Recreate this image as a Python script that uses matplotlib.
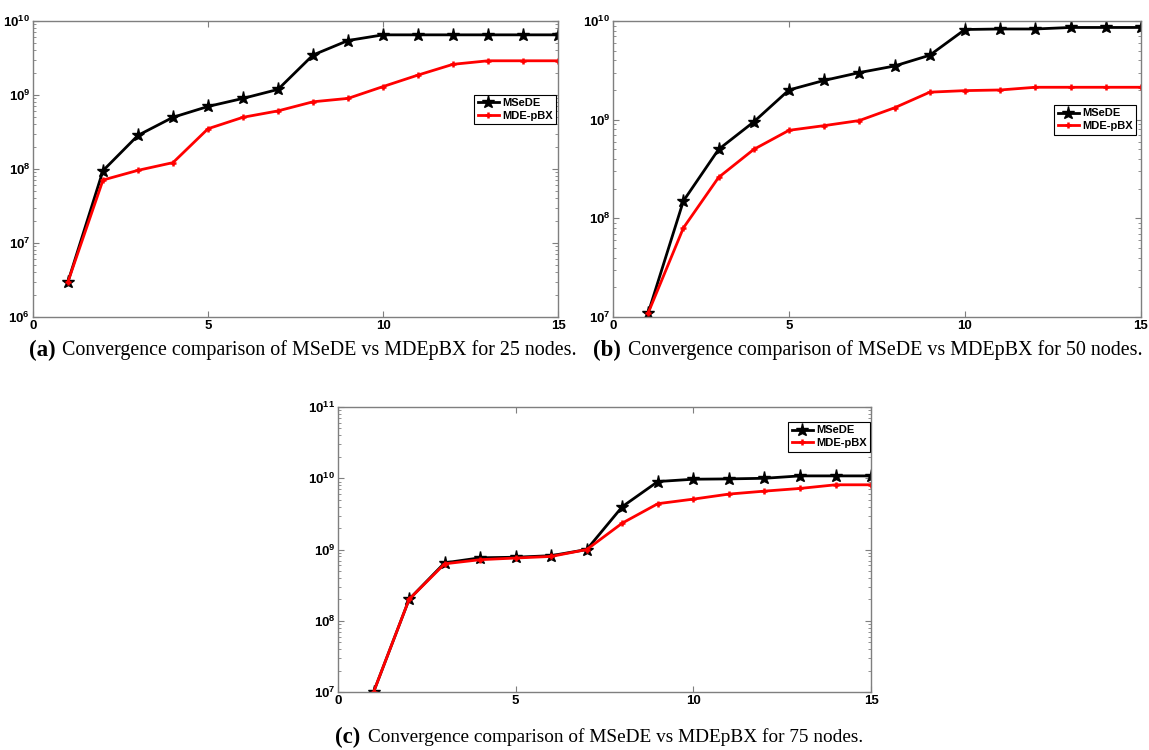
"""Convergence comparison of MSeDE vs MDE-pBX for 25, 50 and 75 nodes (log scale)."""
import numpy as np
import matplotlib
matplotlib.use("Agg")
import matplotlib.pyplot as plt
from matplotlib.ticker import FuncFormatter, LogLocator

# ---------------- DATA ----------------
iterations = [1, 2, 3, 4, 5, 6, 7, 8, 9, 10, 11, 12, 13, 14, 15]

msede_25 = [3e6, 9.5e7, 2.85e8, 5e8, 7e8, 9e8, 1.19e9, 3.47e9, 5.45e9,
            6.5e9, 6.5e9, 6.5e9, 6.5e9, 6.5e9, 6.5e9]
mdepbx_25 = [3e6, 7.1e7, 9.6e7, 1.22e8, 3.5e8, 5e8, 6.1e8, 8.1e8, 9e8,
             1.3e9, 1.86e9, 2.6e9, 2.9e9, 2.9e9, 2.9e9]

msede_50 = [1.1e7, 1.5e8, 5e8, 9.5e8, 2e9, 2.5e9, 3e9, 3.5e9, 4.5e9,
            8.2e9, 8.3e9, 8.3e9, 8.6e9, 8.6e9, 8.6e9]
mdepbx_50 = [1.1e7, 8e7, 2.6e8, 5e8, 7.8e8, 8.7e8, 9.8e8, 1.32e9, 1.9e9,
             1.97e9, 2e9, 2.13e9, 2.13e9, 2.13e9, 2.13e9]

msede_75 = [1e7, 2e8, 6.5e8, 7.65e8, 7.8e8, 8.2e8, 1e9, 4e9, 9e9,
            9.7e9, 9.8e9, 1e10, 1.08e10, 1.08e10, 1.08e10]
mdepbx_75 = [1e7, 2e8, 6.3e8, 7.2e8, 7.6e8, 8e8, 1e9, 2.35e9, 4.4e9,
             5.1e9, 6e9, 6.6e9, 7.2e9, 8.1e9, 8.1e9]

series_labels = ["MSeDE", "MDE-pBX"]
x_ticks = [0, 5, 10, 15]

# ---------------- FONTS ----------------
plt.rcParams["font.family"] = ["Liberation Sans", "DejaVu Sans"]
plt.rcParams["mathtext.fontset"] = "custom"
plt.rcParams["mathtext.bf"] = "Liberation Sans:bold"
plt.rcParams["mathtext.rm"] = "Liberation Sans:bold"

spine_grey = "#7f7f7f"

fig = plt.figure(figsize=(11.49, 7.5), dpi=100)


def decade_label(v, pos):
    # log tick labels like 10^9 in bold
    e = int(round(np.log10(v)))
    return r"$\mathbf{10^{%d}}$" % e


def draw_panel(rect, y_black, y_red, ylim, legend_anchor):
    ax = fig.add_axes(rect)
    ax.plot(iterations, y_black, color="black", lw=2, marker="*",
            ms=9.5, label=series_labels[0])
    ax.plot(iterations, y_red, color="red", lw=2, marker="+",
            ms=5, mew=1.8, label=series_labels[1])
    ax.set_yscale("log")
    ax.set_xlim(0, 15)
    ax.set_ylim(*ylim)
    ax.set_xticks(x_ticks)
    ax.set_xticklabels([str(t) for t in x_ticks], fontweight="bold")
    ax.yaxis.set_major_locator(LogLocator(base=10, numticks=20))
    ax.yaxis.set_minor_locator(LogLocator(base=10, subs=np.arange(2, 10), numticks=20))
    ax.yaxis.set_major_formatter(FuncFormatter(decade_label))
    ax.tick_params(which="both", direction="in", top=True, right=True,
                   color=spine_grey, labelsize=9.5, pad=2)
    ax.tick_params(which="major", length=4)
    ax.tick_params(which="minor", length=2.5)
    for s in ax.spines.values():
        s.set_color(spine_grey)
        s.set_linewidth(1)
    leg = ax.legend(loc="upper right", bbox_to_anchor=legend_anchor,
                    borderaxespad=0, fancybox=False, framealpha=1,
                    prop={"weight": "bold", "size": 8},
                    handlelength=1.9, handletextpad=0.3, borderpad=0.3,
                    labelspacing=0.25)
    leg.get_frame().set_edgecolor("black")
    leg.get_frame().set_linewidth(0.8)
    return ax


# ---------------- THREE PANELS ----------------
draw_panel([0.0287, 0.5773, 0.457, 0.3947], msede_25, mdepbx_25, (1e6, 1e10), (0.996, 0.75))
draw_panel([0.5335, 0.5773, 0.4595, 0.3947], msede_50, mdepbx_50, (1e7, 1e10), (0.9905, 0.716))
draw_panel([0.2942, 0.0773, 0.4639, 0.38], msede_75, mdepbx_75, (1e7, 1e11), (0.998, 0.947))

# ---------------- CAPTIONS ----------------
captions = [
    ("(a)", "Convergence comparison of MSeDE vs MDEpBX for 25 nodes.", 29, 62, 350, 14.4),
    ("(b)", "Convergence comparison of MSeDE vs MDEpBX for 50 nodes.", 593, 628, 350, 14.4),
    ("(c)", "Convergence comparison of MSeDE vs MDEpBX for 75 nodes.", 335, 368, 737, 13.9),
]
for tag, body, x_tag, x_body, y, size in captions:
    fig.text(x_tag / 1149, 1 - y / 750, tag, family="Liberation Serif",
             fontweight="bold", fontsize=16.5, va="center", ha="left")
    fig.text(x_body / 1149, 1 - y / 750, body, family="Liberation Serif",
             fontsize=size, va="center", ha="left")

fig.savefig("out.png", dpi=100)
